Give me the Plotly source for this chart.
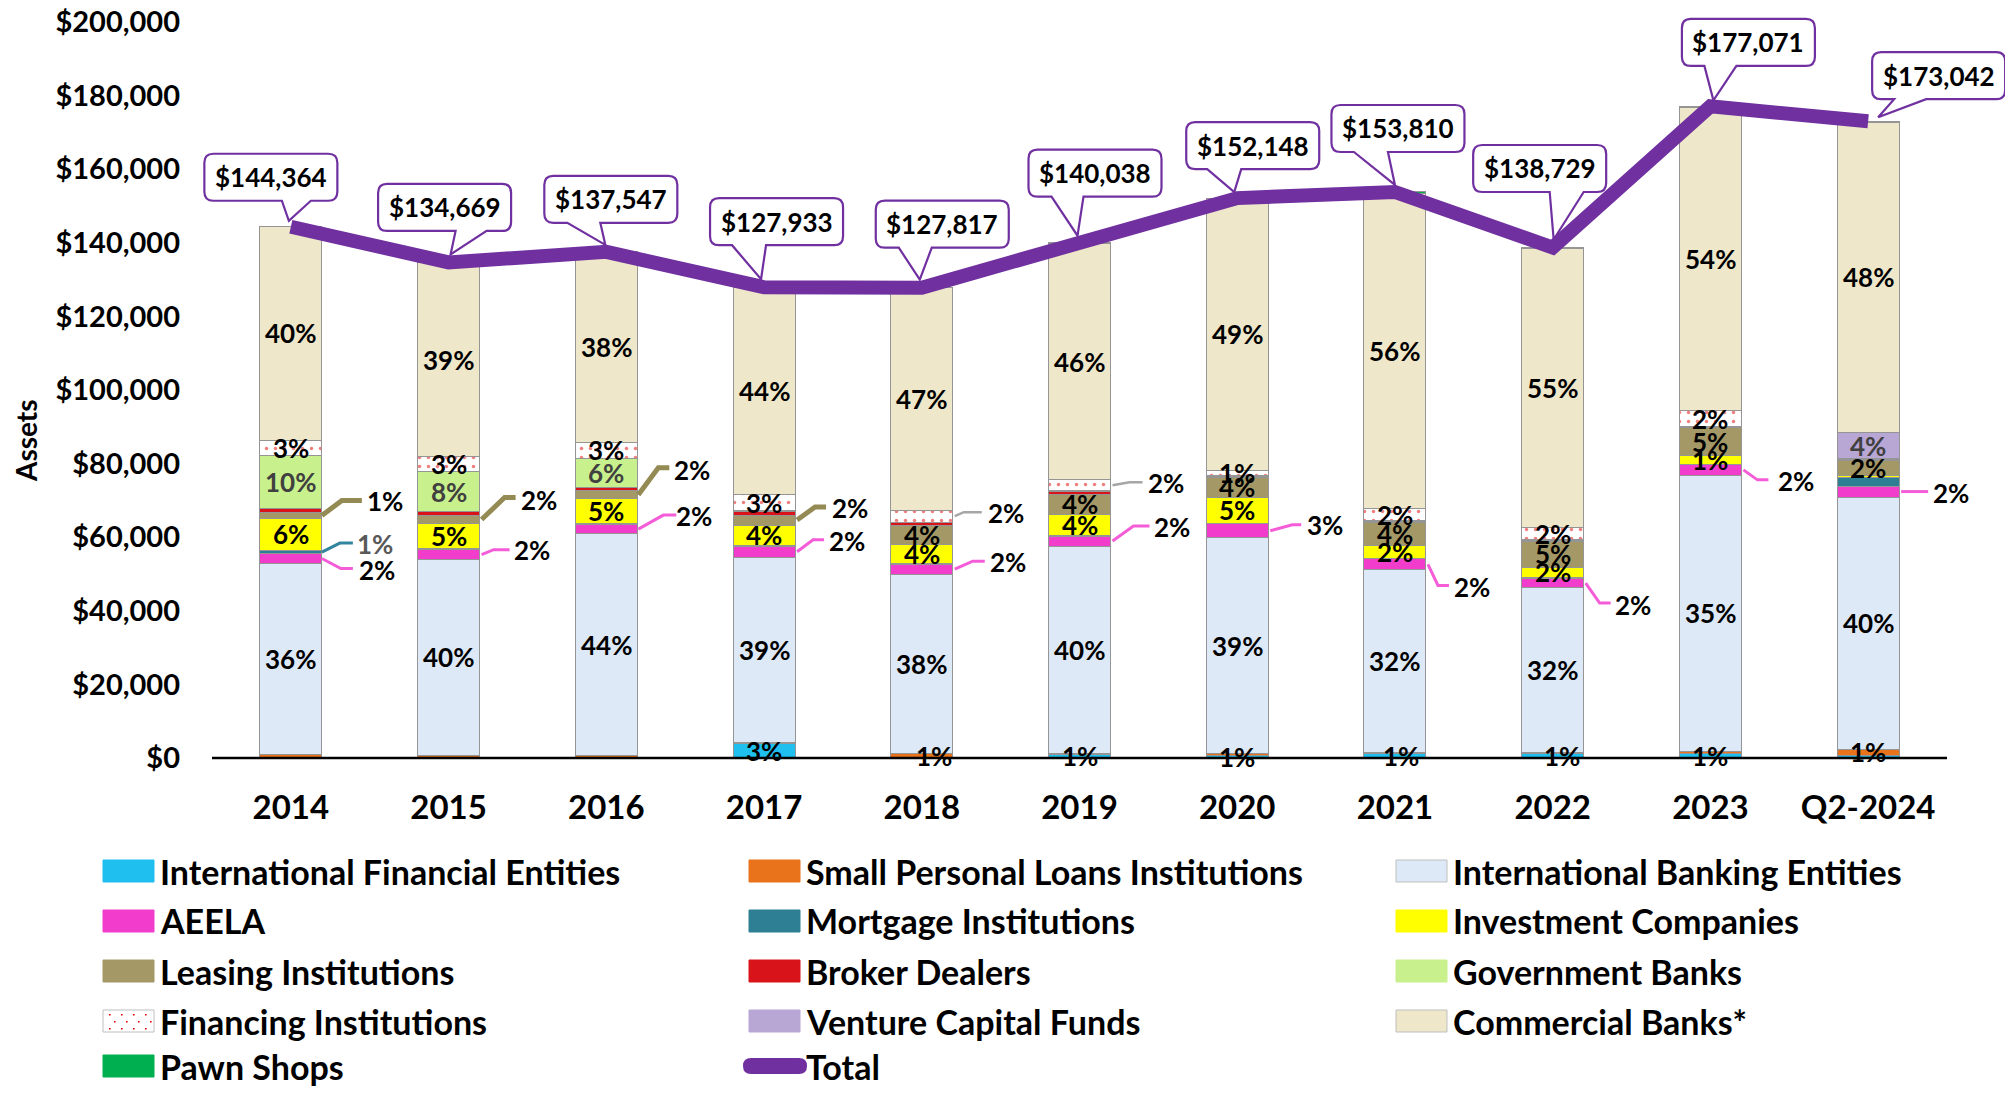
import plotly.graph_objects as go

# ---------------- data ----------------
categories = ["2014", "2015", "2016", "2017", "2018", "2019", "2020", "2021", "2022", "2023", "Q2-2024"]
totals = [144364, 134669, 137547, 127933, 127817, 140038, 152148, 153810, 138729, 177071, 173042]

intl_financial = [200, 100, 100, 3900, 200, 1000, 800, 1200, 1100, 1300, 800]
small_loans = [700, 700, 600, 400, 900, 300, 300, 300, 300, 500, 1600]
intl_banking = [52000, 53100, 60200, 50300, 48900, 56300, 58700, 49600, 44800, 75100, 68500]
aeela = [2600, 2700, 2600, 2900, 2600, 2700, 3900, 3000, 2700, 2800, 3000]
mortgage = [900, 300, 300, 300, 200, 200, 100, 200, 200, 100, 2400]
investment = [8700, 6700, 6600, 5500, 5300, 5600, 7000, 3400, 2800, 2500, 600]
leasing = [1600, 2400, 2300, 2700, 5000, 5600, 5500, 6300, 6900, 7400, 3900]
broker = [1000, 1000, 800, 1000, 800, 600, 250, 300, 200, 200, 200]
government = [14400, 10800, 8000, 300, 200, 300, 100, 200, 300, 300, 0]
financing = [4300, 4100, 4200, 4250, 3200, 3000, 1500, 3300, 3300, 4100, 300]
venture = [0, 0, 0, 0, 0, 0, 0, 0, 0, 0, 7200]
commercial = [57914, 52719, 51797, 56333, 60467, 64138, 73900, 85710, 75829, 82371, 84242]
pawn = [50, 50, 50, 50, 50, 300, 98, 300, 300, 400, 300]

y_ticks = [0, 20000, 40000, 60000, 80000, 100000, 120000, 140000, 160000, 180000, 200000]

# percentage labels as printed on the chart
lbl_ife = ["", "", "", "3%", "", "1%", "1%", "1%", "1%", "1%", ""]
lbl_spl = ["", "", "", "", "1%", "", "", "", "", "", "1%"]
lbl_ibe = ["36%", "40%", "44%", "39%", "38%", "40%", "39%", "32%", "32%", "35%", "40%"]
lbl_aeela = ["2%", "2%", "2%", "2%", "2%", "2%", "3%", "2%", "2%", "2%", "2%"]
lbl_mortgage = ["1%", "", "", "", "", "", "", "", "", "", ""]
lbl_invest = ["6%", "5%", "5%", "4%", "4%", "4%", "5%", "2%", "2%", "1%", ""]
lbl_leasing = ["1%", "2%", "2%", "2%", "4%", "4%", "4%", "4%", "5%", "5%", "2%"]
lbl_broker = [""] * 11
lbl_gov = ["10%", "8%", "6%", "", "", "", "", "", "", "", ""]
lbl_financing = ["3%", "3%", "3%", "3%", "2%", "2%", "1%", "2%", "2%", "2%", ""]
lbl_venture = ["", "", "", "", "", "", "", "", "", "", "4%"]
lbl_commercial = ["40%", "39%", "38%", "44%", "47%", "46%", "49%", "56%", "55%", "54%", "48%"]
lbl_pawn = [""] * 11

series = [
    ("International Financial Entities", intl_financial, lbl_ife),
    ("Small Personal Loans Institutions", small_loans, lbl_spl),
    ("International Banking Entities", intl_banking, lbl_ibe),
    ("AEELA", aeela, lbl_aeela),
    ("Mortgage Institutions", mortgage, lbl_mortgage),
    ("Investment Companies", investment, lbl_invest),
    ("Leasing Institutions", leasing, lbl_leasing),
    ("Broker Dealers", broker, lbl_broker),
    ("Government Banks", government, lbl_gov),
    ("Financing Institutions", financing, lbl_financing),
    ("Venture Capital Funds", venture, lbl_venture),
    ("Commercial Banks*", commercial, lbl_commercial),
    ("Pawn Shops", pawn, lbl_pawn),
]

# ---------------- styles ----------------
FONT = "Lato, 'Open Sans', sans-serif"
colors = {
    "International Financial Entities": "#1FBFEF",
    "Small Personal Loans Institutions": "#E9731B",
    "International Banking Entities": "#DDE9F6",
    "AEELA": "#F23CCB",
    "Mortgage Institutions": "#2F7F94",
    "Investment Companies": "#FFFF00",
    "Leasing Institutions": "#A39866",
    "Broker Dealers": "#D8141A",
    "Government Banks": "#C8F08C",
    "Financing Institutions": "#FFFFFF",
    "Venture Capital Funds": "#B8A6D4",
    "Commercial Banks*": "#EEE7C9",
    "Pawn Shops": "#00B050",
}
text_colors = {"Government Banks": "#404040", "Venture Capital Funds": "#404040"}
TOTAL_COLOR = "#7030A0"

PINK = "#F55CD8"
OLIVE = "#948A54"
# leader lines: (series, index) -> (points [screen px, down positive, from bar centre], label offset)
leaders = {
    ("AEELA", 0): ([(31, 0), (50, 10), (62, 10)], (86, 11)),
    ("AEELA", 1): ([(33, 0), (45, -5), (61, -5)], (83, -5)),
    ("AEELA", 2): ([(32, 0), (57, -14), (70, -14)], (88, -13)),
    ("AEELA", 3): ([(33, 0), (49, -12), (60, -12)], (83, -11)),
    ("AEELA", 4): ([(33, 0), (51, -8), (63, -8)], (86, -7)),
    ("AEELA", 5): ([(33, 0), (54, -15), (70, -15)], (92, -14)),
    ("AEELA", 6): ([(33, 0), (55, -6), (64, -6)], (88, -6)),
    ("AEELA", 7): ([(33, 0), (43, 21), (54, 21)], (77, 23)),
    ("AEELA", 8): ([(33, 0), (47, 20), (58, 20)], (80, 22)),
    ("AEELA", 9): ([(33, 0), (47, 10), (58, 10)], (86, 11)),
    ("AEELA", 10): ([(33, 0), (60, 0)], (83, 1)),
    ("Mortgage Institutions", 0): ([(31, 0), (49, -9), (62, -9)], (84, -8)),
    ("Leasing Institutions", 0): ([(31, 0), (51, -15), (71, -15)], (94, -14)),
    ("Leasing Institutions", 1): ([(33, 0), (56, -22), (67, -22)], (90, -20)),
    ("Leasing Institutions", 2): ([(32, 0), (52, -27), (63, -27)], (86, -25)),
    ("Leasing Institutions", 3): ([(33, 0), (51, -13), (62, -13)], (86, -12)),
    ("Financing Institutions", 4): ([(33, 0), (42, -4), (60, -4)], (84, -3)),
    ("Financing Institutions", 5): ([(33, 0), (50, -3), (63, -3)], (86, -2)),
}
leader_style = {
    "AEELA": (PINK, 3, "#000000"),
    "Mortgage Institutions": ("#31859C", 3, "#595959"),
    "Leasing Institutions": (OLIVE, 5, "#000000"),
    "Financing Institutions": ("#A6A6A6", 2.5, "#000000"),
}
label_nudge = {("Small Personal Loans Institutions", 4): 12,
               ("International Financial Entities", 7): 6,
               ("International Financial Entities", 8): 9}

# callout boxes: box centre offset (screen px), wedge base x's, apex
callouts = [
    (-20, -49.5, -9, 20, (-2, -6)),
    (-4, -55, 7, 38, (2, -8)),
    (4.5, -52.5, -39, -6, (-1, -7)),
    (12.5, -65.5, -32, 2, (-3, -8)),
    (20.5, -63.5, -23, 10, (-2, -8)),
    (15.5, -69.5, -28, 4, (-2, -7)),
    (15.5, -52.5, -30, 4, (-3, -6)),
    (3, -63.5, -41, -7, (0, -7)),
    (-13, -79, -3, 31, (1, -8)),
    (38, -64, -6, 26, (3, -6)),
    (70.5, -45.5, 26, 58, (10, -4)),
]

# ---------------- page geometry (page pixels) ----------------
OFF = 8                      # default body margin of the html page
FIG_W, FIG_H = 2015 - 2 * OFF, 1098 - 2 * OFF
AX_L, AX_R, Y0, Y200 = 212, 1947, 758, 22   # where the category band and 0..200k land
PL, PR, PT, PB = 190, 2005, 12, 764         # plot box (slightly larger so callouts are not clipped)
n = len(categories)
spc = (AX_R - AX_L) / n
ypp = 200000 / (Y0 - Y200)
x_range = [-0.5 - (AX_L - PL) / spc, n - 0.5 + (PR - AX_R) / spc]
y_range = [-(PB - Y0) * ypp, 200000 + (Y200 - PT) * ypp]

def px2paper_x(px):
    return (px - PL) / (PR - PL)
def px2paper_y(py):
    return (PB - py) / (PB - PT)

# ---------------- figure ----------------
fig = go.Figure()
for name, vals, _ in series:
    marker = dict(color=colors[name], line=dict(color="#959595", width=1))
    if name == "Financing Institutions":
        marker["pattern"] = dict(shape=".", fgcolor="#E00000", bgcolor="#FFFFFF", size=9, solidity=0.12)
    fig.add_trace(go.Bar(x=categories, y=vals, name=name, marker=marker, showlegend=False))

fig.add_trace(go.Scatter(x=categories, y=totals, name="Total", mode="lines",
                         line=dict(color=TOTAL_COLOR, width=14), showlegend=False))

annotations = []
shapes = []
LBL = 26

# x axis baseline
shapes.append(dict(type="line", xref="x", yref="y", x0=-0.5, x1=n - 0.5, y0=0, y1=0,
                   line=dict(color="#000000", width=2.5), layer="above"))

base = [0] * n
for name, vals, labels in series:
    for i, txt in enumerate(labels):
        mid = base[i] + vals[i] / 2
        if txt:
            key = (name, i)
            if key in leaders:
                pts, (lx, ly) = leaders[key]
                lc, lw, tc = leader_style[name]
                path = "M" + " L".join(f"{px},{-py}" for px, py in pts)
                shapes.append(dict(type="path", xref="x", yref="y", xsizemode="pixel", ysizemode="pixel",
                                   xanchor=i, yanchor=mid, path=path,
                                   line=dict(color=lc, width=lw), layer="above"))
                annotations.append(dict(x=i, y=mid, text=txt, showarrow=False,
                                        xshift=lx, yshift=-ly,
                                        font=dict(family=FONT, size=LBL, color=tc, weight="bold")))
            else:
                annotations.append(dict(x=i, y=mid, text=txt, showarrow=False,
                                        xshift=label_nudge.get(key, 0),
                                        font=dict(family=FONT, size=LBL,
                                                  color=text_colors.get(name, "#000000"), weight="bold")))
    base = [b + v for b, v in zip(base, vals)]

# total callouts
W, H, R = 133, 47, 9
for i, (cx, cy, w0, w1, (ax, ay)) in enumerate(callouts):
    x0, x1 = cx - W / 2, cx + W / 2
    top, bot = -(cy - H / 2), -(cy + H / 2)
    p = (f"M{x0+R},{top} L{x1-R},{top} Q{x1},{top} {x1},{top-R} L{x1},{bot+R} "
         f"Q{x1},{bot} {x1-R},{bot} L{w1},{bot} L{ax},{-ay} L{w0},{bot} L{x0+R},{bot} "
         f"Q{x0},{bot} {x0},{bot+R} L{x0},{top-R} Q{x0},{top} {x0+R},{top} Z")
    shapes.append(dict(type="path", xref="x", yref="y", xsizemode="pixel", ysizemode="pixel",
                       xanchor=i, yanchor=totals[i], path=p, fillcolor="#FFFFFF",
                       line=dict(color=TOTAL_COLOR, width=2.2), layer="above"))
    annotations.append(dict(x=i, y=totals[i], text=f"${totals[i]:,}", showarrow=False,
                            xshift=cx, yshift=-cy,
                            font=dict(family=FONT, size=LBL, color="#000000", weight="bold")))

# ---------------- manual legend ----------------
legend_names = [s[0] for s in series] + ["Total"]
col_x = [103, 749, 1396]
row_y = [871, 921, 971, 1021, 1066]
for k, name in enumerate(legend_names):
    r, c = divmod(k, 3)
    sx, sy = col_x[c], row_y[r]
    if name == "Total":
        x0, x1, y0, y1 = sx - 6, sx + 58, sy - 8, sy + 8
        rr = 8
        path = (f"M{px2paper_x(x0+rr)},{px2paper_y(y0)} L{px2paper_x(x1-rr)},{px2paper_y(y0)} "
                f"Q{px2paper_x(x1)},{px2paper_y(y0)} {px2paper_x(x1)},{px2paper_y(sy)} "
                f"Q{px2paper_x(x1)},{px2paper_y(y1)} {px2paper_x(x1-rr)},{px2paper_y(y1)} "
                f"L{px2paper_x(x0+rr)},{px2paper_y(y1)} Q{px2paper_x(x0)},{px2paper_y(y1)} {px2paper_x(x0)},{px2paper_y(sy)} "
                f"Q{px2paper_x(x0)},{px2paper_y(y0)} {px2paper_x(x0+rr)},{px2paper_y(y0)} Z")
        shapes.append(dict(type="path", xref="paper", yref="paper", path=path,
                           fillcolor=TOTAL_COLOR, line=dict(width=0)))
    else:
        col = colors[name]
        light = name in ("International Banking Entities", "Financing Institutions", "Commercial Banks*")
        shapes.append(dict(type="rect", xref="paper", yref="paper",
                           x0=px2paper_x(sx), x1=px2paper_x(sx + 51),
                           y0=px2paper_y(sy + 11), y1=px2paper_y(sy - 11),
                           fillcolor=col,
                           line=dict(color="#BFBFBF" if light else col, width=1)))
        if name == "Financing Institutions":
            for gx in range(4):
                for gy in range(3):
                    dx = sx + 6 + gx * 12 + (gy % 2) * 5
                    dy = sy - 7 + gy * 7
                    shapes.append(dict(type="rect", xref="paper", yref="paper",
                                       x0=px2paper_x(dx), x1=px2paper_x(dx + 1.6),
                                       y0=px2paper_y(dy + 1.6), y1=px2paper_y(dy),
                                       fillcolor="#E00000", line=dict(width=0)))
    annotations.append(dict(xref="paper", yref="paper", x=px2paper_x(sx + 55), y=px2paper_y(sy),
                            xanchor="left", yanchor="middle", text=name, showarrow=False,
                            font=dict(family=FONT, size=34, color="#000000", weight="bold")))

# y-axis title
annotations.append(dict(xref="paper", yref="paper", x=px2paper_x(26), y=px2paper_y(441),
                        xanchor="center", yanchor="middle",
                        text="Assets", textangle=-90, showarrow=False,
                        font=dict(family=FONT, size=28, color="#000000", weight="bold")))

fig.update_layout(
    width=FIG_W, height=FIG_H, autosize=False,
    margin=dict(l=PL - OFF, r=FIG_W - (PR - OFF), t=PT - OFF, b=FIG_H - (PB - OFF), pad=0,
                autoexpand=False),
    barmode="stack", bargap=0.607,
    plot_bgcolor="#FFFFFF", paper_bgcolor="#FFFFFF",
    showlegend=False,
    annotations=annotations, shapes=shapes,
    xaxis=dict(type="category", categoryorder="array", categoryarray=categories,
               range=x_range, autorange=False, automargin=False,
               showline=False, showgrid=False, zeroline=False, ticks="", ticklabelstandoff=21,
               tickfont=dict(family=FONT, size=33, color="#000000", weight="bold")),
    yaxis=dict(range=y_range, autorange=False, automargin=False, tickmode="array", tickvals=y_ticks,
               tickformat="$,.0f", showgrid=False, ticklabeloverflow="allow",
               zeroline=False, showline=False, ticks="", ticklabelstandoff=9,
               tickfont=dict(family=FONT, size=29, color="#000000", weight="bold")),
)

fig.write_html("out.html")
